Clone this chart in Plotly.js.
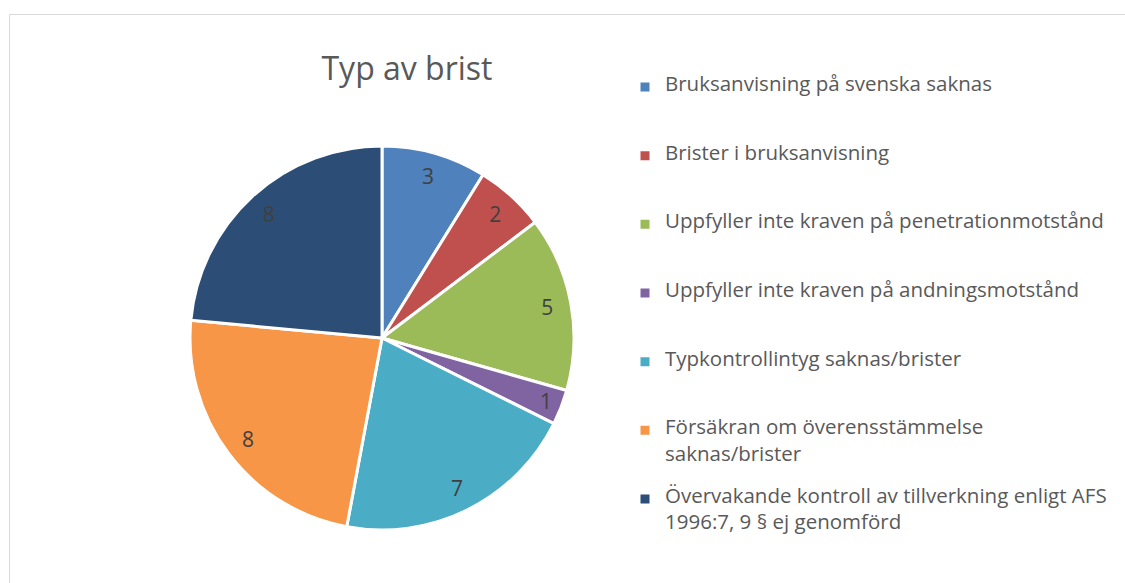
<!DOCTYPE html>
<html>
<head>
<meta charset="utf-8">
<script src="https://cdn.plot.ly/plotly-3.0.1.min.js"></script>
<style>
  html, body { margin: 0; padding: 0; background: #ffffff; }
  #chart { width: 1125px; height: 583px; }
</style>
</head>
<body>
<div id="chart"></div>
<script>
// ---- Data ----
const categories = [
  "Bruksanvisning på svenska saknas",
  "Brister i bruksanvisning",
  "Uppfyller inte kraven på penetrationmotstånd",
  "Uppfyller inte kraven på andningsmotstånd",
  "Typkontrollintyg saknas/brister",
  "Försäkran om överensstämmelse saknas/brister",
  "Övervakande kontroll av tillverkning enligt AFS 1996:7, 9 § ej genomförd"
];
// Legend labels, line-wrapped as in the reference
const legendLines = [
  ["Bruksanvisning på svenska saknas"],
  ["Brister i bruksanvisning"],
  ["Uppfyller inte kraven på penetrationmotstånd"],
  ["Uppfyller inte kraven på andningsmotstånd"],
  ["Typkontrollintyg saknas/brister"],
  ["Försäkran om överensstämmelse", "saknas/brister"],
  ["Övervakande kontroll av tillverkning enligt AFS", "1996:7, 9 § ej genomförd"]
];
const values = [3, 2, 5, 1, 7, 8, 8];
const colors = ["#4F81BD", "#C0504D", "#9BBB59", "#8064A2", "#4BACC6", "#F79646", "#2C4D75"];
const chartTitle = "Typ av brist";

// Build legend labels: larger visible text on alternating lines, blank
// spacer lines so every entry takes the same height (evenly spaced legend)
const LEG_TXT = 20.5;
const span = s => '<span style="font-size:' + LEG_TXT + 'px">' + s + '</span>';
const legendLabels = legendLines.map(lines => {
  const parts = [];
  for (let i = 0; i < 3; i++) {
    if (i > 0) parts.push(" ");
    parts.push(i < lines.length ? span(lines[i]) : " ");
  }
  return parts.join("<br>");
});

const W = 1125, H = 583;
const cx = 382, cy = 338, R = 192;
const dom = {
  x: [(cx - R) / W, (cx + R) / W],
  y: [(H - cy - R) / H, (H - cy + R) / H]
};

// main pie (colours, legend)
const pie = {
  type: "pie",
  labels: legendLabels,
  values: values,
  sort: false,
  direction: "clockwise",
  rotation: 0,
  marker: { colors: colors, line: { color: "#ffffff", width: 3 } },
  textinfo: "none",
  hoverinfo: "value",
  domain: dom
};

// transparent ring carrying the value labels near the outer edge
const labelRing = {
  type: "pie",
  labels: categories,
  values: values,
  sort: false,
  direction: "clockwise",
  rotation: 0,
  hole: 0.75,
  showlegend: false,
  marker: { colors: colors.map(() => "rgba(0,0,0,0)"), line: { width: 0 } },
  textinfo: "value",
  textposition: "inside",
  insidetextorientation: "horizontal",
  textfont: { family: "Open Sans, sans-serif", size: 21, color: "#404040" },
  hoverinfo: "skip",
  domain: dom
};

const layout = {
  width: W,
  height: H,
  margin: { l: 0, r: 0, t: 0, b: 0 },
  paper_bgcolor: "#ffffff",
  font: { family: "Open Sans, sans-serif", color: "#595959" },
  title: {
    text: chartTitle,
    font: { family: "Open Sans, sans-serif", size: 32, color: "#595959" },
    x: 407 / W, xanchor: "center", xref: "paper",
    y: 1 - 69 / H, yanchor: "middle", yref: "container"
  },
  showlegend: true,
  legend: {
    x: 625 / W, xanchor: "left",
    y: 1 - 74 / H, yanchor: "top",
    valign: "top",
    font: { family: "Open Sans, sans-serif", size: 10.1, color: "#595959" },
    bgcolor: "rgba(0,0,0,0)",
    traceorder: "normal"
  },
  shapes: [{
    type: "rect", xref: "paper", yref: "paper", layer: "below",
    x0: 9.5 / W, x1: 1.02, y0: -0.02, y1: 1 - 14.5 / H,
    line: { color: "#D9D9D9", width: 1 }, fillcolor: "rgba(0,0,0,0)"
  }]
};

Plotly.newPlot("chart", [pie, labelRing], layout, { displayModeBar: false, staticPlot: true });
</script>
</body>
</html>
